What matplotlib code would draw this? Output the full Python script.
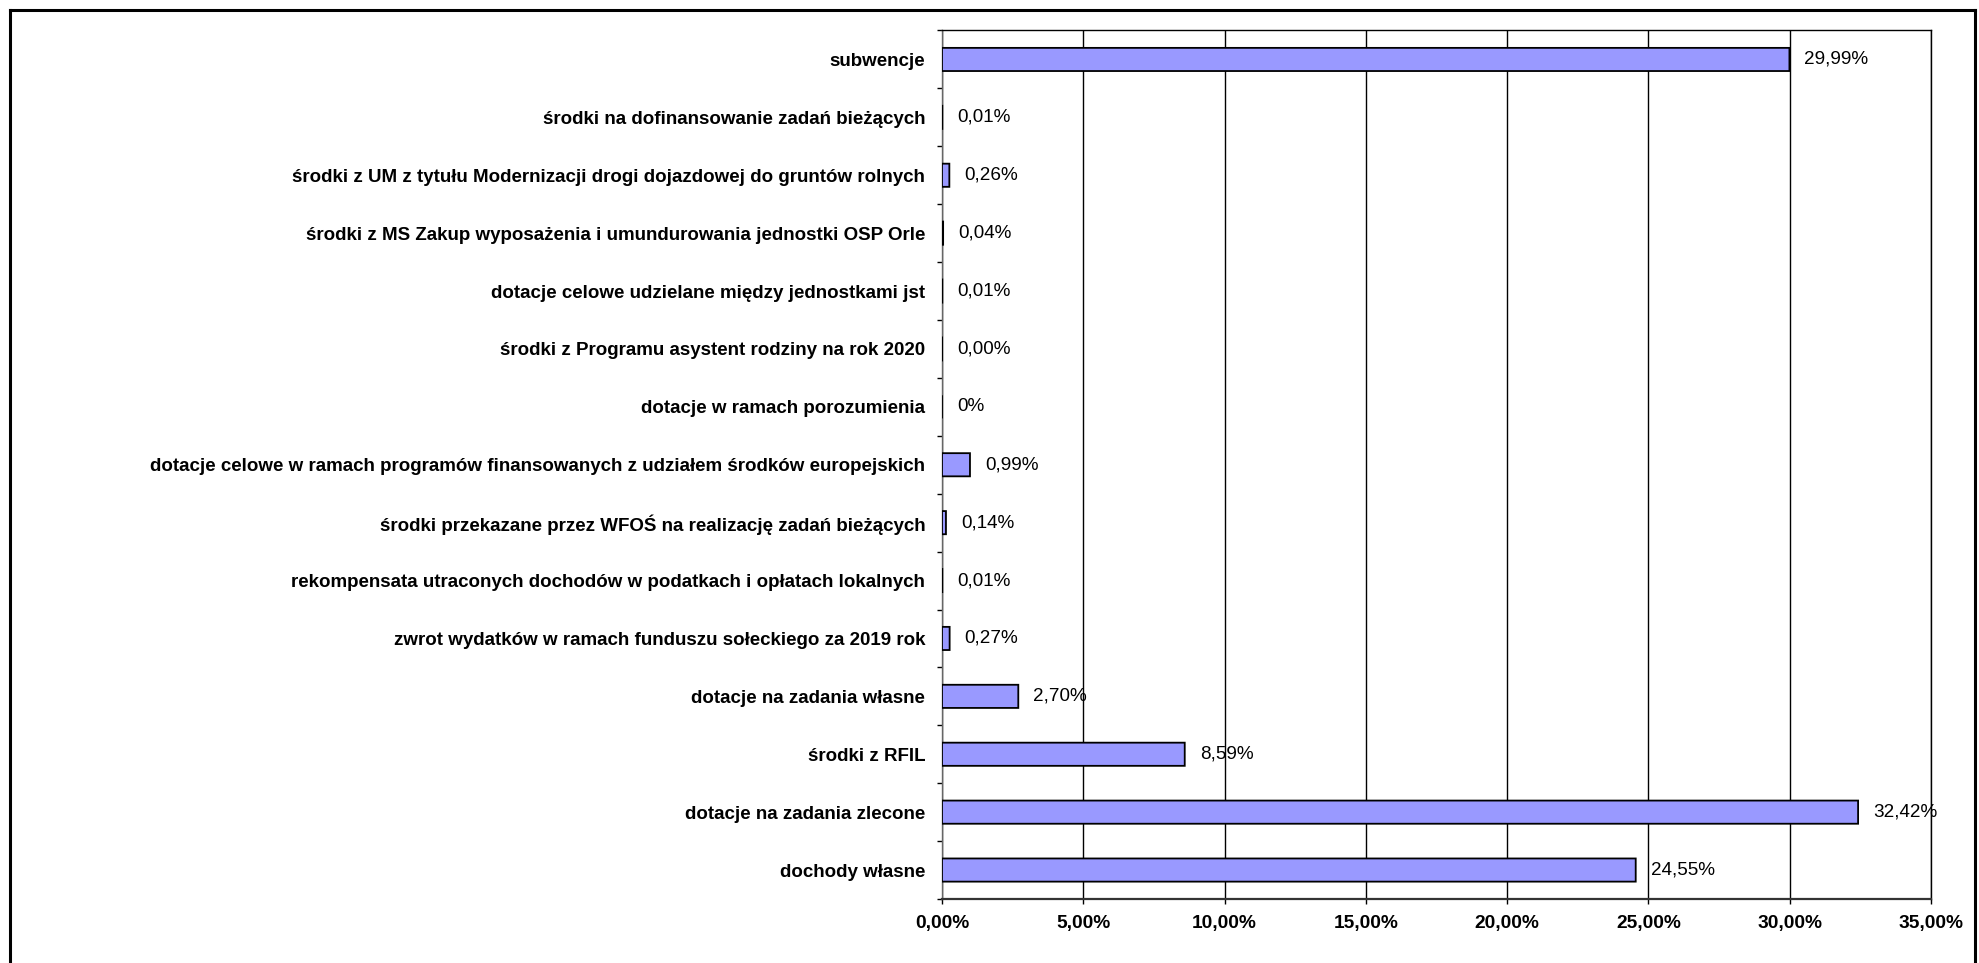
import matplotlib
matplotlib.use("Agg")
import matplotlib.pyplot as plt
from matplotlib.ticker import FuncFormatter, MultipleLocator
from matplotlib.lines import Line2D

# categories listed bottom to top, as drawn
categories = [
    "dochody własne",
    "dotacje na zadania zlecone",
    "środki z RFIL",
    "dotacje na zadania własne",
    "zwrot wydatków w ramach funduszu sołeckiego za 2019 rok",
    "rekompensata utraconych dochodów w podatkach i opłatach lokalnych",
    "środki przekazane przez WFOŚ na realizację zadań bieżących",
    "dotacje celowe w ramach programów finansowanych z udziałem środków europejskich",
    "dotacje w ramach porozumienia",
    "środki z Programu asystent rodziny na rok 2020",
    "dotacje celowe udzielane między jednostkami jst",
    "środki z MS Zakup wyposażenia i umundurowania jednostki OSP Orle",
    "środki z UM z tytułu Modernizacji drogi dojazdowej do gruntów rolnych",
    "środki na dofinansowanie zadań bieżących",
    "subwencje",
]
values = [24.55, 32.42, 8.59, 2.70, 0.27, 0.01, 0.14, 0.99, 0.0, 0.001, 0.01, 0.04, 0.26, 0.01, 29.99]
value_labels = ["24,55%", "32,42%", "8,59%", "2,70%", "0,27%", "0,01%", "0,14%", "0,99%",
                "0%", "0,00%", "0,01%", "0,04%", "0,26%", "0,01%", "29,99%"]

plt.rcParams['font.family'] = ['Liberation Sans', 'DejaVu Sans']

W, H = 1979, 963
fig = plt.figure(figsize=(W / 100, H / 100), dpi=100)
ax = fig.add_axes([942 / W, 1 - 899 / H, (1931 - 942) / W, (899 - 30.5) / H])

ypos = list(range(len(categories)))
bars = ax.barh(ypos, values, height=0.4, color='#9999FF', edgecolor='black', linewidth=1.3, zorder=3)
for b in bars:
    b.set_snap(False)

for y, v, lab in zip(ypos, values, value_labels):
    ax.annotate(lab, xy=(v, y), xytext=(15, 0), textcoords='offset pixels',
                ha='left', va='center', fontsize=13.6, color='black')

ax.set_xlim(0, 35)
ax.set_ylim(-0.5, len(categories) - 0.5)
ax.xaxis.set_major_locator(MultipleLocator(5))
ax.xaxis.set_major_formatter(FuncFormatter(lambda x, p: f"{x:.2f}%".replace('.', ',')))
ax.grid(axis='x', color='black', linewidth=1.0, zorder=0)

ax.set_yticks(ypos)
ax.set_yticklabels(categories, fontweight='bold', fontsize=13.5)
ax.set_yticks([y + 0.5 for y in range(-1, len(categories))], minor=True)
ax.tick_params(axis='y', which='major', length=0, pad=12)
ax.tick_params(axis='y', which='minor', length=3.6, width=1.0)
ax.tick_params(axis='x', length=3.6, width=1.0, pad=8, labelsize=13.8)
for t in ax.get_xticklabels():
    t.set_fontweight('bold')

ax.spines['left'].set_linewidth(1.0)
ax.spines['left'].set_color('#666666')
ax.spines['left'].set_zorder(2)
ax.spines['bottom'].set_linewidth(1.6)
ax.spines['bottom'].set_color('#333333')
for side in ['top', 'right']:
    ax.spines[side].set_linewidth(1.0)

# outer frame of the chart area
x0, x1, y1 = 10 / W, 1975 / W, 1 - 10 / H
for xs, ys in [([x0, x0], [0, y1]), ([x0, x1], [y1, y1]), ([x1, x1], [0, y1])]:
    fig.add_artist(Line2D(xs, ys, transform=fig.transFigure, color='black', linewidth=2.2))

fig.savefig('out.png', dpi=100, facecolor='white')
